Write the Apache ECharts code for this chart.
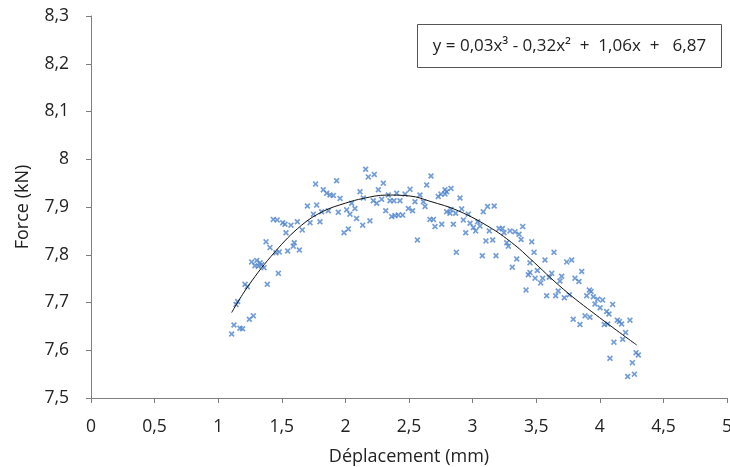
<!DOCTYPE html>
<html>
<head>
<meta charset="utf-8">
<script src="https://cdn.jsdelivr.net/npm/echarts@6/dist/echarts.min.js"></script>
<style>html,body{margin:0;padding:0;background:#fff}#c{width:730px;height:467px}</style>
</head>
<body>
<div id="c"></div>
<script>
// Measured scatter points (Déplacement mm, Force kN)
const pointsX = [
1.766,1.826,1.701,1.774,1.748,1.813,1.433,1.464,1.507,1.525,1.572,1.622,1.533,1.661,1.722,1.800,
1.376,1.407,1.454,1.480,1.546,1.598,1.590,1.638,1.263,1.303,1.329,1.342,1.289,1.315,1.360,1.473,
1.386,1.211,1.229,1.153,1.140,1.276,1.245,1.124,1.171,1.192,1.106,
2.159,2.180,2.227,1.931,2.298,1.853,1.879,1.905,1.958,2.115,2.141,2.259,2.337,2.403,2.508,2.469,
2.586,1.866,1.944,2.010,2.049,2.075,2.036,2.219,2.246,2.285,2.351,2.382,2.429,2.547,2.613,2.495,
2.528,2.317,2.364,2.390,2.416,2.450,2.088,2.193,2.136,2.023,1.989,2.566,
2.673,2.639,2.730,2.751,2.783,2.796,2.830,2.783,2.901,2.626,2.665,2.692,2.704,2.757,2.796,2.822,
2.830,2.867,2.914,2.849,2.927,2.966,2.980,3.006,2.946,3.024,3.040,3.058,3.084,3.118,3.170,3.131,
3.105,3.158,2.872,3.076,3.184,3.208,3.234,3.247,3.294,3.333,3.365,3.394,3.381,3.268,3.281,3.347,
3.312,3.438,3.420,
3.465,3.483,3.640,3.451,3.569,3.740,3.779,3.858,3.509,3.451,3.622,3.491,3.551,3.603,3.700,3.535,
3.687,3.805,3.836,3.673,3.582,3.653,3.721,3.760,3.918,3.931,3.897,3.949,3.983,4.022,3.962,4.002,
4.101,4.054,4.072,3.922,3.791,3.884,3.844,4.035,4.062,4.138,4.154,4.172,4.237,4.203,4.111,4.180,
4.080,4.285,4.303,4.256,4.272,4.219
];
const pointsY = [
7.948,7.936,7.902,7.904,7.885,7.890,7.874,7.873,7.867,7.864,7.862,7.869,7.846,7.852,7.867,7.869,
7.827,7.815,7.804,7.806,7.808,7.825,7.818,7.810,7.785,7.788,7.783,7.779,7.777,7.776,7.773,7.761,
7.738,7.738,7.733,7.702,7.696,7.672,7.665,7.653,7.646,7.645,7.634,
7.979,7.963,7.968,7.955,7.950,7.929,7.925,7.924,7.918,7.932,7.919,7.936,7.925,7.929,7.937,7.927,
7.925,7.892,7.889,7.894,7.908,7.897,7.885,7.913,7.908,7.916,7.913,7.913,7.913,7.911,7.911,7.897,
7.892,7.892,7.880,7.882,7.883,7.883,7.876,7.871,7.862,7.854,7.846,7.831,
7.965,7.946,7.922,7.927,7.936,7.932,7.939,7.927,7.919,7.901,7.874,7.874,7.859,7.864,7.890,7.887,
7.895,7.887,7.896,7.864,7.873,7.885,7.866,7.857,7.846,7.850,7.869,7.860,7.890,7.901,7.902,7.850,
7.829,7.831,7.805,7.798,7.798,7.855,7.855,7.846,7.850,7.848,7.843,7.859,7.832,7.825,7.818,7.791,
7.774,7.758,7.726,
7.827,7.805,7.805,7.783,7.789,7.785,7.789,7.765,7.767,7.763,7.761,7.751,7.751,7.753,7.755,7.741,
7.745,7.751,7.744,7.724,7.714,7.714,7.710,7.716,7.726,7.723,7.714,7.712,7.707,7.705,7.697,7.689,
7.696,7.681,7.676,7.669,7.665,7.672,7.654,7.654,7.655,7.663,7.660,7.655,7.663,7.637,7.617,7.623,
7.583,7.595,7.590,7.574,7.550,7.545
];
// Trend curve
const curveX = [1.106,1.237,1.446,1.656,1.826,2.000,2.141,2.324,2.508,2.665,2.888,3.150,3.333,3.451,3.713,3.975,4.290];
const curveY = [7.679,7.735,7.806,7.862,7.891,7.908,7.918,7.925,7.923,7.912,7.892,7.855,7.820,7.792,7.728,7.673,7.611];
const equationText = 'y = 0,03x³ - 0,32x²  +  1,06x  +   6,87';
const xAxisName = 'Déplacement (mm)';
const yAxisName = 'Force (kN)';

const fmt = v => String(+(+v).toFixed(2)).replace('.', ',');
const FONT = 'Open Sans';
const TXT = '#222';
const chart = echarts.init(document.getElementById('c'), null, {renderer: 'canvas'});
const xMark = 'path://M0,2L2,0L5,3L8,0L10,2L7,5L10,8L8,10L5,7L2,10L0,8L3,5Z';
chart.setOption({
  animation: false,
  backgroundColor: '#fff',
  grid: {left: 91, right: 3, top: 16, bottom: 69, containLabel: false, outerBoundsMode: 'none'},
  xAxis: {
    type: 'value', min: 0, max: 5, interval: 0.5,
    name: xAxisName, nameLocation: 'middle', nameGap: 50,
    nameTextStyle: {fontFamily: FONT, fontSize: 18, color: TXT},
    axisLine: {show: true, onZero: false, lineStyle: {color: '#7f7f7f', width: 1}},
    axisTick: {show: true, inside: false, length: 5, lineStyle: {color: '#7f7f7f'}},
    axisLabel: {formatter: fmt, margin: 20, fontFamily: FONT, fontSize: 17.5, color: TXT},
    splitLine: {show: false}
  },
  yAxis: {
    type: 'value', min: 7.5, max: 8.3, interval: 0.1,
    name: yAxisName, nameLocation: 'middle', nameGap: 59, nameRotate: 90,
    nameTextStyle: {fontFamily: FONT, fontSize: 18, color: TXT},
    axisLine: {show: true, onZero: false, lineStyle: {color: '#7f7f7f', width: 1}},
    axisTick: {show: true, inside: false, length: 5, lineStyle: {color: '#7f7f7f'}},
    axisLabel: {formatter: fmt, margin: 22, fontFamily: FONT, fontSize: 17.5, color: TXT},
    splitLine: {show: false}
  },
  series: [
    {
      type: 'scatter',
      data: pointsX.map((x, i) => [x, pointsY[i]]),
      symbol: xMark, symbolSize: 6,
      itemStyle: {color: '#4f84cc'},
      z: 2
    },
    {
      type: 'line',
      data: curveX.map((x, i) => [x, curveY[i]]),
      smooth: 0.4, showSymbol: false, symbol: 'none',
      lineStyle: {color: '#111', width: 1},
      z: 3
    }
  ],
  graphic: [
    {
      type: 'group', left: 417, top: 24,
      children: [
        {type: 'rect', shape: {x: 0, y: 0, width: 304, height: 43},
         style: {fill: '#fff', stroke: '#555', lineWidth: 1}},
        {type: 'text', x: 152, y: 22,
         style: {text: equationText, fontFamily: FONT, fontSize: 17, fill: TXT,
                 align: 'center', verticalAlign: 'middle'}}
      ]
    }
  ]
});
</script>
</body>
</html>
